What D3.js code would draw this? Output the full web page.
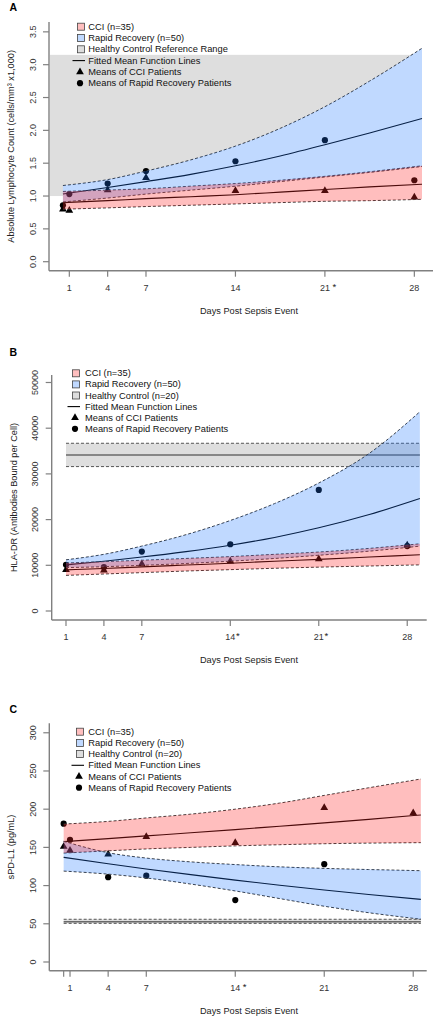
<!DOCTYPE html>
<html><head><meta charset="utf-8">
<script src="https://cdn.jsdelivr.net/npm/d3@7"></script>
<style>
body{margin:0;background:#fff}
svg{display:block}
text{font-family:"Liberation Sans",Arial,sans-serif;fill:#111}
</style>
</head><body>
<svg id="c" width="437" height="1020"></svg>
<script>
// ---------------- DATA ----------------
// Panel A: Absolute Lymphocyte Count
const meanDaysA = [0.5, 1, 4, 7, 14, 21, 28];
const cciMeansA = [0.80, 0.78, 1.09, 1.28, 1.08, 1.08, 0.98];
const rrMeansA  = [0.86, 1.03, 1.19, 1.38, 1.53, 1.85, 1.24];
const fitDaysA  = [0.5, 4, 7, 10.5, 14, 17.5, 21, 24.5, 28.6];
const cciFitA   = [0.90, 0.93, 0.96, 0.99, 1.02, 1.06, 1.10, 1.14, 1.18];
const cciLowA   = [0.80, 0.82, 0.84, 0.86, 0.88, 0.90, 0.92, 0.93, 0.95];
const cciHighA  = [1.07, 1.09, 1.11, 1.15, 1.19, 1.24, 1.30, 1.37, 1.46];
const rrFitA    = [1.03, 1.13, 1.22, 1.33, 1.46, 1.61, 1.78, 1.96, 2.18];
const rrLowA    = [0.91, 0.97, 1.03, 1.09, 1.15, 1.22, 1.29, 1.36, 1.45];
const rrHighA   = [1.16, 1.25, 1.38, 1.55, 1.76, 2.03, 2.36, 2.75, 3.25];
const healthyA  = [1.0, 3.15];
const yTicksA   = [0, 0.5, 1, 1.5, 2, 2.5, 3, 3.5];
const yTickLabelsA = ["0.0", "0.5", "1.0", "1.5", "2.0", "2.5", "3.0", "3.5"];
const xTicksA   = [1, 4, 7, 14, 21, 28];
const xTickLabelsA = ["1", "4", "7", "14", "21 *", "28"];

// Panel B: HLA-DR
const meanDaysB = [1, 4, 7, 14, 21, 28];
const cciMeansB = [9000, 8900, 10300, 10900, 11400, 14400];
const rrMeansB  = [10100, 9600, 13000, 14600, 26500, 14200];
const fitDaysB  = [1, 4, 7, 10.5, 14, 17.5, 21, 25, 29];
const cciFitB   = [9000, 9300, 9650, 10050, 10450, 10900, 11300, 11800, 12300];
const cciLowB   = [7800, 8100, 8400, 8750, 9050, 9350, 9600, 9850, 10100];
const cciHighB  = [10500, 10800, 11100, 11500, 11900, 12400, 12900, 13700, 14700];
const rrFitB    = [10100, 10900, 11800, 13000, 14400, 16100, 18200, 21100, 24600];
const rrLowB    = [9500, 9700, 10000, 10400, 10900, 11500, 12200, 13100, 14200];
const rrHighB   = [11200, 12400, 14200, 16700, 19800, 23500, 28000, 34500, 43600];
const healthyB  = [31600, 34150, 36700];
const yTicksB   = [0, 10000, 20000, 30000, 40000, 50000];
const yTickLabelsB = ["0", "10000", "20000", "30000", "40000", "50000"];
const xTicksB   = [1, 4, 7, 14, 21, 28];
const xTickLabelsB = ["1", "4", "7", "14*", "21*", "28"];

// Panel C: sPD-L1
const rrMeanDaysC  = [0.5, 1, 4, 7, 14, 21];
const rrMeansC     = [181, 160, 111, 113, 81, 128];
const cciMeanDaysC = [0.5, 1, 4, 7, 14, 21, 28];
const cciMeansC    = [151, 146, 141, 164, 156, 202, 195];
const fitDaysC  = [0.5, 4, 7, 10.5, 14, 17.5, 21, 24.5, 28.6];
const cciFitC   = [157.5, 161.5, 165.0, 169.1, 173.3, 177.7, 182.1, 186.7, 192.4];
const cciLowC   = [142.5, 145.5, 148, 150, 152, 153.5, 154.8, 155.6, 156.2];
const cciHighC  = [180.5, 184, 188.5, 193.5, 200, 208, 218, 228, 239.5];
const rrFitC    = [137, 128.5, 121.8, 114.3, 107.1, 100.5, 94.2, 88.4, 82.0];
const rrLowC    = [119, 115, 110, 102, 93, 83, 73, 64.5, 56];
const rrHighC   = [158, 143, 136, 131, 127.5, 124.5, 122.5, 121, 119.5];
const healthyC  = [50.6, 52.7, 55.9];
const yTicksC   = [0, 50, 100, 150, 200, 250, 300];
const yTickLabelsC = ["0", "50", "100", "150", "200", "250", "300"];
const xTicksC   = [0.5, 1, 4, 7, 14, 21, 28];
const xTickLabelsC = ["", "1", "4", "7", "14 *", "21", "28"];

const legendA = ["CCI (n=35)", "Rapid Recovery (n=50)", "Healthy Control Reference Range",
                 "Fitted Mean Function Lines", "Means of CCI Patients", "Means of Rapid Recovery Patients"];
const legendBC = ["CCI (n=35)", "Rapid Recovery (n=50)", "Healthy Control (n=20)",
                  "Fitted Mean Function Lines", "Means of CCI Patients", "Means of Rapid Recovery Patients"];

// ---------------- STYLE ----------------
const GRAY_FILL = "#dedede";
const RED_FILL = "rgba(255,40,40,0.30)";
const BLUE_FILL = "rgba(30,120,255,0.28)";
const RED_SOLID = "#ffbfbf";
const BLUE_SOLID = "#c0d9ff";
const AXIS_COL = "#808080";

const svg = d3.select("#c");

function drawPanel(cfg) {
  const g = svg.append("g");
  const x = d3.scaleLinear().domain(cfg.xDomain).range([cfg.left, cfg.right]);
  const y = d3.scaleLinear().domain(cfg.yDomain).range([cfg.bottom, cfg.top]);
  const fd = cfg.fitDays;
  const bandPath = (lo, hi) => d3.area()
      .x((d, i) => x(fd[i])).y0((d, i) => y(lo[i])).y1((d, i) => y(hi[i]))
      .curve(d3.curveMonotoneX)(fd);
  const linePath = (v) => d3.line()
      .x((d, i) => x(fd[i])).y((d, i) => y(v[i]))
      .curve(d3.curveMonotoneX)(fd);
  const x0 = x(fd[0]), x1 = x(fd[fd.length - 1]);

  // healthy reference
  if (cfg.healthy.length === 2) {
    g.append("rect").attr("x", cfg.left + 1).attr("width", x1 - cfg.left - 1)
      .attr("y", y(cfg.healthy[1])).attr("height", y(cfg.healthy[0]) - y(cfg.healthy[1]))
      .attr("fill", GRAY_FILL);
    g.append("path").attr("d", bandPath(cfg.rrLow, cfg.rrHigh)).attr("fill", "#fff");
    g.append("path").attr("d", bandPath(cfg.cciLow, cfg.cciHigh)).attr("fill", "#fff");
  } else {
    const [lo, mid, hi] = cfg.healthy;
    g.append("rect").attr("x", x0).attr("width", x1 - x0)
      .attr("y", y(hi)).attr("height", y(lo) - y(hi)).attr("fill", GRAY_FILL);
    [lo, hi].forEach(v => g.append("line").attr("x1", x0).attr("x2", x1)
      .attr("y1", y(v)).attr("y2", y(v)).attr("stroke", "#555").attr("stroke-width", 1)
      .attr("stroke-dasharray", "3,2"));
    g.append("line").attr("x1", x0).attr("x2", x1).attr("y1", y(mid)).attr("y2", y(mid))
      .attr("stroke", "#6a6a6a").attr("stroke-width", 1.4);
  }

  // fitted lines (under translucent bands)
  g.append("path").attr("d", linePath(cfg.rrFit)).attr("fill", "none")
    .attr("stroke", "#000").attr("stroke-width", 1.1);
  g.append("path").attr("d", linePath(cfg.cciFit)).attr("fill", "none")
    .attr("stroke", "#000").attr("stroke-width", 1.1);

  // means
  const tri = d3.symbol().type(d3.symbolTriangle).size(26);
  const circ = d3.symbol().type(d3.symbolCircle).size(30);
  cfg.cciDays.forEach((d, i) => g.append("path").attr("d", tri())
    .attr("transform", `translate(${x(d)},${y(cfg.cciMeans[i])})`).attr("fill", "#000"));
  cfg.rrDays.forEach((d, i) => g.append("path").attr("d", circ())
    .attr("transform", `translate(${x(d)},${y(cfg.rrMeans[i])})`).attr("fill", "#000"));

  // band dashed edges
  [cfg.rrLow, cfg.rrHigh, cfg.cciLow, cfg.cciHigh].forEach(v =>
    g.append("path").attr("d", linePath(v)).attr("fill", "none")
      .attr("stroke", "#3a3a3a").attr("stroke-width", 1).attr("stroke-dasharray", "3,2"));

  // translucent bands
  g.append("path").attr("d", bandPath(cfg.rrLow, cfg.rrHigh)).attr("fill", BLUE_FILL);
  g.append("path").attr("d", bandPath(cfg.cciLow, cfg.cciHigh)).attr("fill", RED_FILL);

  // axes (L box)
  g.append("line").attr("x1", cfg.left).attr("x2", cfg.left).attr("y1", cfg.top).attr("y2", cfg.bottom)
    .attr("stroke", AXIS_COL).attr("stroke-width", 1.4);
  g.append("line").attr("x1", cfg.left).attr("x2", cfg.right).attr("y1", cfg.bottom).attr("y2", cfg.bottom)
    .attr("stroke", AXIS_COL).attr("stroke-width", 1.4);

  cfg.yTicks.forEach((t, i) => {
    g.append("line").attr("x1", cfg.left - 6).attr("x2", cfg.left).attr("y1", y(t)).attr("y2", y(t))
      .attr("stroke", AXIS_COL).attr("stroke-width", 1.2);
    g.append("text").attr("transform", `translate(${cfg.left - 16.5},${y(t)}) rotate(-90)`)
      .attr("text-anchor", "middle").attr("dominant-baseline", "central")
      .attr("font-size", 9).style("fill", "#333").text(cfg.yTickLabels[i]);
  });
  cfg.xTicks.forEach((t, i) => {
    g.append("line").attr("x1", x(t)).attr("x2", x(t)).attr("y1", cfg.bottom).attr("y2", cfg.bottom + 6)
      .attr("stroke", AXIS_COL).attr("stroke-width", 1.2);
    const lab = cfg.xTickLabels[i];
    const m = lab.match(/^(\d*)(\s?)(\*?)$/);
    const num = m[1];
    if (num) {
      const tx = g.append("text").attr("x", x(t)).attr("y", cfg.bottom + 17)
        .attr("text-anchor", "middle").attr("dominant-baseline", "central")
        .attr("font-size", 9).style("fill", "#333").text(num);
      if (m[3]) {
        const w = tx.node().getComputedTextLength();
        g.append("text").attr("x", x(t) + w / 2 + (m[2] ? 2.6 : 0.8)).attr("y", cfg.bottom + 15.5)
          .attr("dominant-baseline", "central").attr("font-size", 9.5).style("fill", "#222").text("*");
      }
    }
  });

  // axis titles
  g.append("text").attr("x", 249).attr("y", cfg.bottom + 40).attr("text-anchor", "middle")
    .attr("dominant-baseline", "central").attr("font-size", 9.2).style("fill", "#222")
    .text("Days Post Sepsis Event");
  g.append("text").attr("transform", `translate(${cfg.left - 38},${(cfg.top + cfg.bottom) / 2}) rotate(-90)`)
    .attr("text-anchor", "middle").attr("dominant-baseline", "central").attr("font-size", 9.2)
    .style("fill", "#222").text(cfg.yTitle);

  // panel letter
  g.append("text").attr("x", 9.5).attr("y", cfg.letterY).attr("font-size", 10.5)
    .attr("font-weight", "bold").style("fill", "#000").text(cfg.letter);

  // legend
  const L = cfg.legend;
  cfg.legendItems.forEach((txt, i) => {
    const cy = L.y0 + i * L.dy;
    if (i < 3) {
      g.append("rect").attr("x", L.sx - 3.5).attr("y", cy - 3.5).attr("width", 7).attr("height", 7)
        .attr("fill", [RED_SOLID, BLUE_SOLID, GRAY_FILL][i]).attr("stroke", "#444").attr("stroke-width", 0.8);
    } else if (i === 3) {
      g.append("line").attr("x1", L.sx - 8.5).attr("x2", L.sx + 4).attr("y1", cy).attr("y2", cy)
        .attr("stroke", "#000").attr("stroke-width", 1.1);
    } else if (i === 4) {
      g.append("path").attr("d", d3.symbol().type(d3.symbolTriangle).size(26)())
        .attr("transform", `translate(${L.sx - 1},${cy})`).attr("fill", "#000");
    } else {
      g.append("path").attr("d", d3.symbol().type(d3.symbolCircle).size(30)())
        .attr("transform", `translate(${L.sx - 1},${cy})`).attr("fill", "#000");
    }
    g.append("text").attr("x", L.tx).attr("y", cy).attr("dominant-baseline", "central")
      .attr("font-size", 9.3).style("fill", "#111").text(txt);
  });
}

drawPanel({
  letter: "A", letterY: 10.7,
  left: 49, right: 433, top: 22, bottom: 270.7,
  xDomain: [-0.59, 29.46], yDomain: [-0.137, 3.65],
  fitDays: fitDaysA, cciFit: cciFitA, cciLow: cciLowA, cciHigh: cciHighA,
  rrFit: rrFitA, rrLow: rrLowA, rrHigh: rrHighA, healthy: healthyA,
  cciDays: meanDaysA, cciMeans: cciMeansA, rrDays: meanDaysA, rrMeans: rrMeansA,
  yTicks: yTicksA, yTickLabels: yTickLabelsA, xTicks: xTicksA, xTickLabels: xTickLabelsA,
  yTitle: "Absolute Lymphocyte Count (cells/mm\u00B3 x1,000)",
  legendItems: legendA, legend: { sx: 81, tx: 88.3, y0: 26.7, dy: 11.3 }
});
drawPanel({
  letter: "B", letterY: 356,
  left: 51.7, right: 426.7, top: 375, bottom: 620,
  xDomain: [-0.131, 29.54], yDomain: [-1969, 51640],
  fitDays: fitDaysB, cciFit: cciFitB, cciLow: cciLowB, cciHigh: cciHighB,
  rrFit: rrFitB, rrLow: rrLowB, rrHigh: rrHighB, healthy: healthyB,
  cciDays: meanDaysB, cciMeans: cciMeansB, rrDays: meanDaysB, rrMeans: rrMeansB,
  yTicks: yTicksB, yTickLabels: yTickLabelsB, xTicks: xTicksB, xTickLabels: xTickLabelsB,
  yTitle: "HLA-DR (Antibodies Bound per Cell)",
  legendItems: legendBC, legend: { sx: 76, tx: 85, y0: 373.3, dy: 11.1 }
});
drawPanel({
  letter: "C", letterY: 713.3,
  left: 49.3, right: 426.7, top: 723.3, bottom: 970.7,
  xDomain: [-0.63, 29.06], yDomain: [-11.4, 312.4],
  fitDays: fitDaysC, cciFit: cciFitC, cciLow: cciLowC, cciHigh: cciHighC,
  rrFit: rrFitC, rrLow: rrLowC, rrHigh: rrHighC, healthy: healthyC,
  cciDays: cciMeanDaysC, cciMeans: cciMeansC, rrDays: rrMeanDaysC, rrMeans: rrMeansC,
  yTicks: yTicksC, yTickLabels: yTickLabelsC, xTicks: xTicksC, xTickLabels: xTickLabelsC,
  yTitle: "sPD-L1 (pg/mL)",
  legendItems: legendBC, legend: { sx: 80, tx: 88.3, y0: 731.7, dy: 11.2 }
});
</script>
</body></html>
